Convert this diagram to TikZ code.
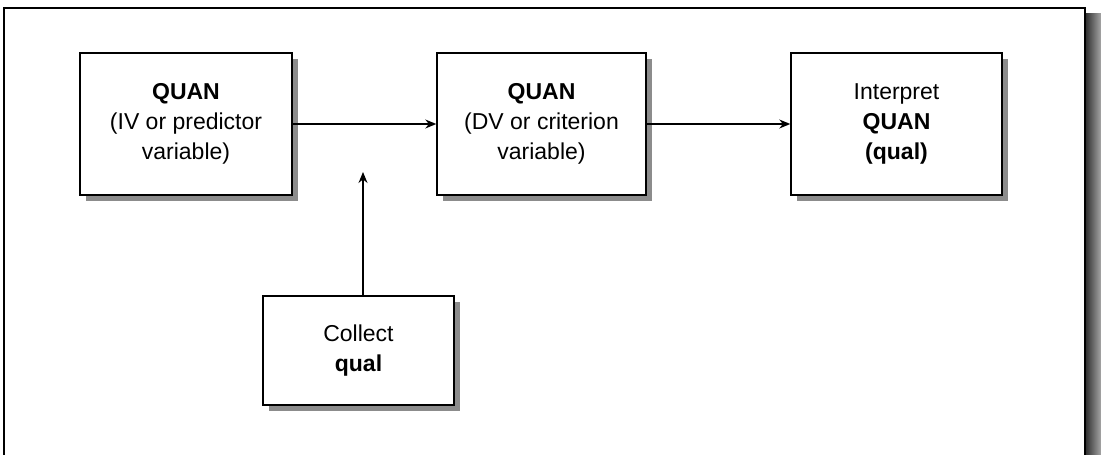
\documentclass[tikz,border=0pt]{standalone}
\usepackage{fontspec}
\setmainfont{Liberation Sans}
\usetikzlibrary{arrows.meta,positioning,shadows}
\tikzset{
  qbox/.style  = {draw, line width=1.4pt, fill=white, align=center, inner sep=0pt,
                  font=\fontsize{23}{30}\selectfont,
                  drop shadow={shadow xshift=6pt, shadow yshift=-6pt, fill=black!45, opacity=1}},
  flow/.style  = {-{Stealth[length=11pt,width=9pt]}, line width=1.3pt},
  frame/.style = {line width=2.2pt},
}

\begin{document}
\begin{tikzpicture}[x=1pt,y=-1pt]
  \useasboundingbox (0,0) rectangle (1101,455);
  % outer frame, open at the bottom
  \shade[left color=black!80, right color=black!35] (1086,13) rectangle (1101,455);
  \draw[frame] (4,458) -- (4,8) -- (1085,8) -- (1085,458);
  \node[qbox, minimum width=212pt, minimum height=142pt] (iv) at (186,124)
      {\textbf{QUAN}\\(IV or predictor\\variable)};
  \node[qbox, minimum width=209pt, minimum height=142pt] (dv) at (541.5,124)
      {\textbf{QUAN}\\(DV or criterion\\variable)};
  \node[qbox, minimum width=211pt, minimum height=142pt] (interp) at (896.5,124)
      {Interpret\\\textbf{QUAN}\\\textbf{(qual)}};
  \node[qbox, minimum width=191pt, minimum height=109pt] (collect) at (358.5,350.5)
      {Collect\\\textbf{qual}};
  \coordinate (tip) at (363,172);
  \draw[flow] (iv.east) -- (dv.west);
  \draw[flow] (dv.east) -- (interp.west);
  \draw[flow] (tip |- collect.north) -- (tip);
\end{tikzpicture}
\end{document}
